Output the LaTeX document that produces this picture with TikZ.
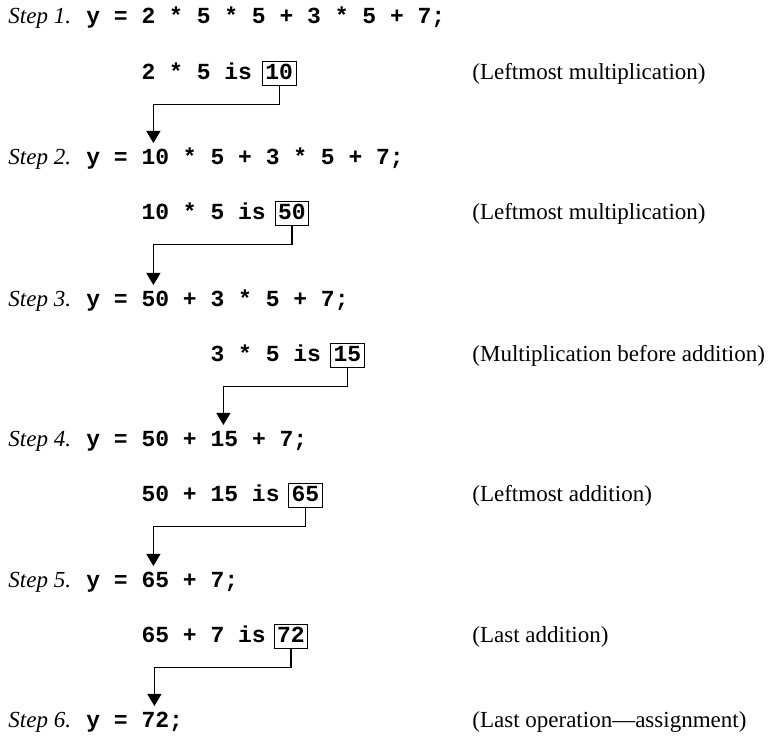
\documentclass[tikz,border=0pt]{standalone}
\usepackage{fontspec}
\setmainfont{Liberation Serif}
\setmonofont{Liberation Mono}
\usetikzlibrary{arrows.meta,calc,positioning}

\begin{document}
\begin{tikzpicture}[x=0.5pt,y=-0.5pt,
  steplbl/.style={anchor=base west, inner sep=0pt, font=\fontsize{11.5}{14}\selectfont\itshape},
  code/.style={anchor=base west, inner sep=0pt, font=\fontsize{11.5}{14}\selectfont\ttfamily\bfseries},
  note/.style={anchor=base west, inner sep=0pt, font=\fontsize{11.5}{14}\selectfont},
  resbox/.style={anchor=base, draw, line width=0.5pt, inner xsep=1.5pt, inner ysep=1.5pt,
    text height=7.5pt, text depth=1.5pt, font=\fontsize{11.5}{14}\selectfont\ttfamily\bfseries},
  link/.style={line width=0.55pt, -{Triangle[width=7pt,length=6pt]}}]
\useasboundingbox (0,0) rectangle (768,738);

% Step 1
\node[steplbl] (s1) at (8,24) {Step 1.};
\node[code] (y1) at (86,24) {y = 2 * 5 * 5 + 3 * 5 + 7;};
\node[code] (o1) at (141.2,80) {2 * 5 is};
\node[resbox] (b1) at (279.2,80) {10};
\node[note] (n1) at (472,80) {(Leftmost multiplication)};

% Step 2
\node[steplbl] (s2) at (8,165) {Step 2.};
\node[code] (y2) at (86,165) {y =};
\node[code] (r2) at (141.2,165) {10};
\node[code] (e2) at (182.6,165) {* 5 + 3 * 5 + 7;};
\node[code] (o2) at (141.2,220) {10 * 5 is};
\node[resbox] (b2) at (292,220) {50};
\node[note] (n2) at (472,220) {(Leftmost multiplication)};

% Step 3
\node[steplbl] (s3) at (8,307) {Step 3.};
\node[code] (y3) at (86,307) {y =};
\node[code] (r3) at (141.2,307) {50};
\node[code] (e3) at (182.6,307) {+ 3 * 5 + 7;};
\node[code] (o3) at (210.2,362) {3 * 5 is};
\node[resbox] (b3) at (347.5,362) {15};
\node[note] (n3) at (472,362) {(Multiplication before addition)};

% Step 4
\node[steplbl] (s4) at (8,447) {Step 4.};
\node[code] (y4) at (86,447) {y = 50 +};
\node[code] (r4) at (210.2,447) {15};
\node[code] (e4) at (251.6,447) {+ 7;};
\node[code] (o4) at (141.2,502) {50 + 15 is};
\node[resbox] (b4) at (305.5,502) {65};
\node[note] (n4) at (472,502) {(Leftmost addition)};

% Step 5
\node[steplbl] (s5) at (8,588) {Step 5.};
\node[code] (y5) at (86,588) {y =};
\node[code] (r5) at (141.2,588) {65};
\node[code] (e5) at (182.6,588) {+ 7;};
\node[code] (o5) at (141.2,643) {65 + 7 is};
\node[resbox] (b5) at (291,643) {72};
\node[note] (n5) at (472,643) {(Last addition)};

% Step 6
\node[steplbl] (s6) at (8,728) {Step 6.};
\node[code] (y6) at (86,728) {y =};
\node[code] (r6) at (141.2,728) {72};
\node[code] (e6) at (168.8,728) {;};
\node[note] (n6) at (472,728) {(Last operation---assignment)};

\draw[link] (b1.south) -- ++(0,18) -| ($(r2.base)+(-2,-22)$);
\draw[link] (b2.south) -- ++(0,18) -| ($(r3.base)+(-2,-22)$);
\draw[link] (b3.south) -- ++(0,18) -| ($(r4.base)+(-1,-22)$);
\draw[link] (b4.south) -- ++(0,18) -| ($(r5.base)+(-2,-22)$);
\draw[link] (b5.south) -- ++(0,18) -| ($(r6.base)+(-1,-22)$);
\end{tikzpicture}
\end{document}
